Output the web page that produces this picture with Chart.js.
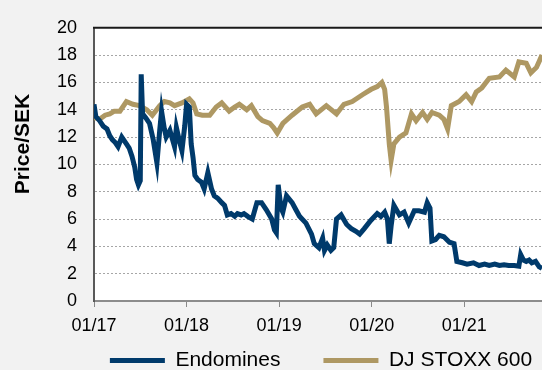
<!DOCTYPE html>
<html>
<head>
<meta charset="utf-8">
<script src="https://cdn.jsdelivr.net/npm/chart.js"></script>
<style>
    body { margin: 0; background: #f2f2f2; }
    #wrap { width: 542px; height: 370px; }
</style>
</head>
<body>
<div id="wrap"><canvas id="myChart" width="542" height="370"></canvas></div>
<script>
// dates as decimal years
var endDates = [2017.00, 2017.02, 2017.06, 2017.10, 2017.14, 2017.17, 2017.20, 2017.23, 2017.26, 2017.30,
    2017.35, 2017.38, 2017.41, 2017.44, 2017.46, 2017.48, 2017.50, 2017.51, 2017.525, 2017.56,
    2017.60, 2017.64, 2017.68, 2017.71, 2017.73, 2017.76, 2017.78, 2017.82, 2017.87, 2017.89,
    2017.92, 2017.95, 2017.98, 2018.00, 2018.03, 2018.05, 2018.07, 2018.09, 2018.12, 2018.16,
    2018.19, 2018.23, 2018.27, 2018.30, 2018.34, 2018.38, 2018.41, 2018.44, 2018.48, 2018.52,
    2018.55, 2018.59, 2018.62, 2018.66, 2018.71, 2018.76, 2018.81, 2018.86, 2018.92, 2018.95,
    2018.97, 2018.99, 2019.02, 2019.04, 2019.08, 2019.14, 2019.18, 2019.22, 2019.29, 2019.35,
    2019.38, 2019.43, 2019.47, 2019.49, 2019.52, 2019.56, 2019.59, 2019.62, 2019.67, 2019.73,
    2019.78, 2019.83, 2019.87, 2019.92, 2019.99, 2020.06, 2020.10, 2020.14, 2020.17, 2020.19,
    2020.21, 2020.24, 2020.30, 2020.35, 2020.40, 2020.46, 2020.51, 2020.57, 2020.60, 2020.63,
    2020.65, 2020.69, 2020.73, 2020.78, 2020.84, 2020.89, 2020.92, 2020.98, 2021.03, 2021.10,
    2021.16, 2021.22, 2021.27, 2021.33, 2021.38, 2021.43, 2021.48, 2021.54, 2021.59, 2021.61,
    2021.64, 2021.67, 2021.70, 2021.73, 2021.77, 2021.81, 2021.84];
var endPrices = [14.4, 13.5, 13.2, 12.8, 12.6, 12.1, 11.8, 11.6, 11.3, 12.0,
    11.5, 11.2, 10.6, 9.8, 8.9, 8.5, 8.8, 16.6, 13.7, 13.4,
    13.0, 11.8, 10.1, 12.5, 13.9, 12.6, 12.0, 12.5, 11.3, 12.7,
    11.8, 11.0, 12.8, 14.4, 14.2, 11.5, 10.5, 9.2, 8.9, 8.7,
    8.2, 9.4, 8.2, 7.7, 7.5, 7.2, 7.0, 6.3, 6.4, 6.2,
    6.4, 6.3, 6.4, 6.2, 6.0, 7.2, 7.2, 6.7, 6.0, 5.2,
    5.0, 8.5, 6.8, 6.5, 7.7, 7.2, 6.7, 6.2, 5.7, 4.9,
    4.2, 3.9, 4.6, 3.7, 4.1, 3.7, 3.9, 6.0, 6.3, 5.6,
    5.3, 5.1, 4.9, 5.3, 5.9, 6.4, 6.2, 6.5, 6.0, 4.2,
    5.5, 7.0, 6.3, 6.5, 5.7, 6.6, 6.6, 6.5, 7.2, 6.8,
    4.4, 4.5, 4.8, 4.7, 4.3, 4.2, 2.9, 2.8, 2.7, 2.8,
    2.6, 2.7, 2.6, 2.7, 2.6, 2.65, 2.6, 2.6, 2.55, 3.4,
    3.0, 2.9, 3.0, 2.8, 2.9, 2.5, 2.4];

var stoxxDates = [2017.00, 2017.01, 2017.06, 2017.12, 2017.17, 2017.22, 2017.28, 2017.35, 2017.42, 2017.49,
    2017.57, 2017.63, 2017.71, 2017.76, 2017.82, 2017.87, 2017.95, 2018.03, 2018.07, 2018.11,
    2018.17, 2018.25, 2018.32, 2018.38, 2018.46, 2018.52, 2018.57, 2018.65, 2018.70, 2018.77,
    2018.82, 2018.90, 2018.94, 2018.98, 2019.04, 2019.14, 2019.25, 2019.33, 2019.40, 2019.51,
    2019.62, 2019.70, 2019.79, 2019.90, 2019.995, 2020.06, 2020.11, 2020.14, 2020.16, 2020.19,
    2020.21, 2020.24, 2020.30, 2020.37, 2020.43, 2020.48, 2020.55, 2020.60, 2020.65, 2020.73,
    2020.78, 2020.82, 2020.86, 2020.945, 2021.02, 2021.08, 2021.13, 2021.19, 2021.27, 2021.38,
    2021.45, 2021.54, 2021.59, 2021.67, 2021.72, 2021.78, 2021.84];
var stoxxPrices = [13.4, 13.5, 13.3, 13.6, 13.7, 13.9, 13.9, 14.6, 14.4, 14.3,
    14.0, 13.6, 14.3, 14.6, 14.5, 14.3, 14.5, 14.8, 14.5, 13.7,
    13.6, 13.6, 14.2, 14.5, 13.9, 14.2, 14.4, 14.0, 14.3, 13.5,
    13.2, 13.0, 12.7, 12.3, 13.0, 13.6, 14.2, 14.4, 13.7, 14.3,
    13.7, 14.4, 14.6, 15.1, 15.5, 15.7, 16.0, 15.5, 14.2, 11.5,
    10.3, 11.5, 12.0, 12.3, 13.7, 13.2, 13.8, 13.3, 13.8, 13.6,
    13.3, 12.6, 14.3, 14.6, 15.1, 14.6, 15.3, 15.6, 16.3, 16.4,
    16.9, 16.4, 17.5, 17.4, 16.7, 17.1, 18.0];

var yearTicks = [2017, 2018, 2019, 2020, 2021];
var seriesNames = ['Endomines', 'DJ STOXX 600'];

function toPoints(xs, ys) {
    return xs.map(function (x, i) { return { x: x, y: ys[i] }; });
}

// background, top frame line and y title
var framePlugin = {
    id: 'frame',
    beforeDraw: function (chart) {
        var c = chart.ctx, a = chart.chartArea;
        c.save();
        c.fillStyle = '#f2f2f2';
        c.fillRect(0, 0, chart.width, chart.height);
        c.fillStyle = '#ffffff';
        c.fillRect(a.left, a.top, a.right - a.left, a.bottom - a.top);
        c.restore();
    },
    afterLayout: function (chart) {
        // legend: centred under the plot area, sitting low
        var lg = chart.legend;
        lg.left = 52;
        lg.right = 590;
        lg.top = 307;
        lg.bottom = 370;
    },
    afterDraw: function (chart) {
        var c = chart.ctx, a = chart.chartArea;
        c.save();
        c.strokeStyle = '#1a1a1a';
        c.lineWidth = 2;
        c.beginPath();
        c.moveTo(a.left - 1, a.top);
        c.lineTo(a.right, a.top);
        c.stroke();
        c.translate(23, 144);
        c.rotate(-Math.PI / 2);
        c.font = 'bold 21px Arial, "Liberation Sans", sans-serif';
        c.fillStyle = '#000';
        c.textAlign = 'center';
        c.textBaseline = 'middle';
        c.fillText('Price/SEK', 0, 0);
        c.restore();
    }
};

window.onload = function () {
    Chart.defaults.font.family = 'Arial, "Liberation Sans", sans-serif';
    Chart.defaults.color = '#000';
    var ctx = document.getElementById('myChart').getContext('2d');
    var myChart = new Chart(ctx, {
        type: 'line',
        data: {
            datasets: [{
                label: seriesNames[0],
                data: toPoints(endDates, endPrices),
                borderColor: '#003a6b',
                backgroundColor: '#003a6b',
                borderWidth: 5,
                pointRadius: 0,
                pointStyle: 'line',
                tension: 0
            }, {
                label: seriesNames[1],
                data: toPoints(stoxxDates, stoxxPrices),
                borderColor: '#ae9863',
                backgroundColor: '#ae9863',
                borderWidth: 5,
                pointRadius: 0,
                pointStyle: 'line',
                tension: 0
            }]
        },
        options: {
            responsive: false,
            animation: false,
            layout: { padding: { top: 22, right: 0, bottom: 0, left: 0 } },
            plugins: {
                tooltip: { enabled: false },
                legend: {
                    position: 'bottom',
                    maxHeight: 33,
                    labels: {
                        usePointStyle: true,
                        pointStyleWidth: 55,
                        padding: 43,
                        font: { size: 21 },
                        color: '#000'
                    }
                }
            },
            scales: {
                x: {
                    type: 'linear',
                    min: 2017,
                    max: 2021.84,
                    afterBuildTicks: function (scale) {
                        scale.ticks = yearTicks.map(function (v) { return { value: v }; });
                    },
                    afterFit: function (scale) { scale.height = 36; },
                    ticks: {
                        font: { size: 18 },
                        padding: 8,
                        maxRotation: 0,
                        callback: function (v) { return '01/' + String(v).slice(2); }
                    },
                    grid: { drawOnChartArea: false, drawTicks: true, tickLength: 6, color: '#888' },
                    border: { color: '#8c8c8c', width: 2 }
                },
                y: {
                    min: 0,
                    max: 20,
                    afterFit: function (scale) { scale.width = 94; },
                    ticks: { stepSize: 2, font: { size: 18 }, padding: 17 },
                    grid: {
                        drawTicks: false,
                        color: function (c) { return (c.tick && (c.tick.value === 0)) ? 'rgba(0,0,0,0)' : '#a6a6a6'; },
                        lineWidth: 1
                    },
                    border: { color: '#595959', width: 2, dash: [2, 2] }
                }
            }
        },
        plugins: [framePlugin]
    });
};
</script>
</body>
</html>
